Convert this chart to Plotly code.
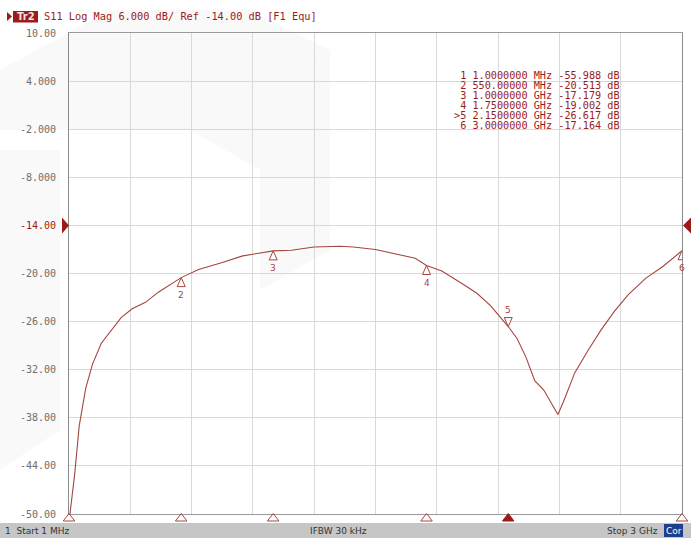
import plotly.graph_objects as go

# ---------------- data ----------------
freq_mhz = [1, 7, 29, 51, 83, 116, 159, 213, 256, 310, 375, 440, 505, 550, 635, 743, 851,
            1000, 1089, 1200, 1327, 1392, 1500, 1609, 1695, 1750, 1825, 1933, 1998, 2063,
            2150, 2193, 2236, 2280, 2323, 2366, 2393, 2420, 2475, 2540, 2605, 2670, 2735,
            2822, 2908, 3000]
s11_db = [-55.988, -49.7, -45.0, -39.0, -34.3, -31.3, -28.7, -27.0, -25.5, -24.4, -23.6,
          -22.3, -21.2, -20.513, -19.5, -18.7, -17.8, -17.179, -17.1, -16.7, -16.6, -16.7,
          -17.0, -17.6, -18.1, -19.002, -19.7, -21.4, -22.5, -24.0, -26.617, -28.1, -30.4,
          -33.4, -34.5, -36.4, -37.6, -36.0, -32.4, -29.6, -27.0, -24.7, -22.7, -20.6,
          -19.1, -17.164]

marker_ids = ["1", "2", "3", "4", "5", "6"]
marker_freq = [1, 550, 1000, 1750, 2150, 3000]
marker_db = [-55.988, -20.513, -17.179, -19.002, -26.617, -17.164]
marker_freq_text = ["1.0000000 MHz", "550.00000 MHz", "1.0000000 GHz", "1.7500000 GHz",
                    "2.1500000 GHz", "3.0000000 GHz"]
active_marker = "5"

y_ticks = [10, 4, -2, -8, -14, -20, -26, -32, -38, -44, -50]
y_tick_labels = ["10.00", "4.000", "-2.000", "-8.000", "-14.00", "-20.00", "-26.00",
                 "-32.00", "-38.00", "-44.00", "-50.00"]
ref_level = -14
y_min, y_max = -50, 10
start_freq, stop_freq = 1, 3000
header_text = "S11 Log Mag 6.000 dB/ Ref -14.00 dB [F1 Equ]"

# ---------------- styling ----------------
W, H = 691, 538
GRID_TOP, GRID_BOTTOM, STRIP_BOTTOM = 33, 514, 523
ML, MR, MT, MB = 69, 9, GRID_TOP, H - STRIP_BOTTOM
PW, PH = W - ML - MR, H - MT - MB
STRIP_FRAC = (STRIP_BOTTOM - GRID_BOTTOM) / PH
RED = "#a4463f"
DARKRED = "#9b1b1b"
MONO = "DejaVu Sans Mono"


def px_x(x):
    return (x - ML) / PW


def px_y(y):
    return (H - MB - y) / PH


fig = go.Figure()
fig.add_trace(go.Scatter(x=freq_mhz, y=s11_db, mode="lines", xaxis="x", yaxis="y",
                         line=dict(color=RED, width=1.1), hoverinfo="skip",
                         showlegend=False))

# marker strip under the grid
fig.add_trace(go.Scatter(
    x=marker_freq, y=[0.5] * len(marker_freq), xaxis="x2", yaxis="y2",
    mode="markers", cliponaxis=False, hoverinfo="skip", showlegend=False,
    marker=dict(symbol=["triangle-up" if m == active_marker else "triangle-up-open"
                        for m in marker_ids],
                size=10, color=[DARKRED if m == active_marker else RED for m in marker_ids],
                line=dict(width=1, color=[DARKRED if m == active_marker else RED
                                          for m in marker_ids]))))

shapes = []
annotations = []

# faint watermark facets
wm = [
    [(0, 70), (110, 10), (250, 10), (330, 50), (190, 130), (0, 130)],
    [(0, 150), (60, 150), (60, 430), (0, 470)],
    [(190, 130), (330, 50), (330, 250), (260, 290), (260, 170)],
]
for poly in wm:
    path = "M" + " L".join(f"{px_x(x)},{px_y(y)}" for x, y in poly) + " Z"
    shapes.append(dict(type="path", xref="paper", yref="paper", path=path,
                       fillcolor="rgba(0,0,0,0.022)", line=dict(width=0), layer="below"))

# marker symbols on trace
for mid, f, d in zip(marker_ids, marker_freq, marker_db):
    if d < y_min:
        continue
    if mid == active_marker:
        path = "M0,0 L-4,9 L4,9 Z"
        lab_shift = 17
    else:
        path = "M0,0 L-4,-9 L4,-9 Z"
        lab_shift = -17
    shapes.append(dict(type="path", xref="x", yref="y", xsizemode="pixel",
                       ysizemode="pixel", xanchor=f, yanchor=d, path=path,
                       line=dict(color=RED, width=1), fillcolor="white"))
    annotations.append(dict(x=f, y=d, xref="x", yref="y", text=mid, showarrow=False,
                            yshift=lab_shift, font=dict(family="DejaVu Sans", size=9,
                                                        color=RED)))

# reference level arrows
shapes.append(dict(type="path", xref="paper", yref="y", xsizemode="pixel",
                   ysizemode="pixel", xanchor=0, yanchor=ref_level,
                   path="M0,0 L-7,-8 L-7,8 Z", fillcolor=DARKRED, line=dict(width=0)))
shapes.append(dict(type="path", xref="paper", yref="y", xsizemode="pixel",
                   ysizemode="pixel", xanchor=1, yanchor=ref_level,
                   path="M1,0 L9,-8 L9,8 Z", fillcolor=DARKRED, line=dict(width=0)))

# marker table
for i, (mid, ft, d) in enumerate(zip(marker_ids, marker_freq_text, marker_db)):
    prefix = (">" + mid) if mid == active_marker else ("&nbsp;" + mid)
    line = f"{prefix} {ft} {d:.3f} dB"
    annotations.append(dict(x=px_x(452), y=px_y(75.5 + 9.9 * i), xref="paper", yref="paper",
                            xanchor="left", yanchor="middle", text=line.replace(" ", "&nbsp;"),
                            showarrow=False,
                            font=dict(family=MONO, size=10.2, color=DARKRED)))

# header
shapes.append(dict(type="path", xref="paper", yref="paper",
                   path=f"M{px_x(7)},{px_y(12)} L{px_x(12)},{px_y(16.5)} L{px_x(7)},{px_y(21)} Z",
                   fillcolor=DARKRED, line=dict(width=0)))
shapes.append(dict(type="rect", xref="paper", yref="paper", x0=px_x(13), x1=px_x(38),
                   y0=px_y(22.5), y1=px_y(11), fillcolor=DARKRED, line=dict(width=0)))
annotations.append(dict(x=px_x(25.5), y=px_y(16.5), xref="paper", yref="paper",
                        text="<b>Tr2</b>", showarrow=False, xanchor="center",
                        yanchor="middle", font=dict(family="DejaVu Sans", size=10,
                                                    color="#f4e0e0")))
annotations.append(dict(x=px_x(42), y=px_y(16.5), xref="paper", yref="paper",
                        text=header_text.replace(" ", "&nbsp;"), showarrow=False,
                        xanchor="left", yanchor="middle",
                        font=dict(family=MONO, size=10.3, color=DARKRED)))

# bottom status bar
shapes.append(dict(type="rect", xref="paper", yref="paper", x0=px_x(0), x1=px_x(W),
                   y0=px_y(538), y1=px_y(523), fillcolor="#c6c6c6", line=dict(width=0)))
shapes.append(dict(type="rect", xref="paper", yref="paper", x0=px_x(664), x1=px_x(683),
                   y0=px_y(537), y1=px_y(524), fillcolor="#1d3f8c", line=dict(width=0)))
bar_font = dict(family="DejaVu Sans", size=9, color="#333333")
annotations += [
    dict(x=px_x(3), y=px_y(530.5), xref="paper", yref="paper", xanchor="left",
         yanchor="middle", text=f"1&nbsp;&nbsp;Start {start_freq} MHz", showarrow=False,
         font=bar_font),
    dict(x=px_x(338), y=px_y(530.5), xref="paper", yref="paper", xanchor="center",
         yanchor="middle", text="IFBW 30 kHz", showarrow=False, font=bar_font),
    dict(x=px_x(660), y=px_y(530.5), xref="paper", yref="paper", xanchor="right",
         yanchor="middle", text=f"Stop {stop_freq // 1000} GHz", showarrow=False,
         font=bar_font),
    dict(x=px_x(673.5), y=px_y(530.5), xref="paper", yref="paper", xanchor="center",
         yanchor="middle", text="Cor", showarrow=False,
         font=dict(family="DejaVu Sans", size=9, color="white")),
]

tick_text = [(f"<span style='color:{DARKRED}'>{t}</span>" if v == ref_level else t)
             for v, t in zip(y_ticks, y_tick_labels)]

fig.update_layout(
    width=W, height=H,
    margin=dict(l=ML, r=MR, t=MT, b=MB, pad=0),
    paper_bgcolor="white", plot_bgcolor="rgba(0,0,0,0)",
    showlegend=False,
    shapes=shapes, annotations=annotations,
    xaxis=dict(range=[start_freq, stop_freq], tick0=start_freq, anchor="y",
               dtick=(stop_freq - start_freq) / 10, showticklabels=False,
               showgrid=True, gridcolor="#d9d9d9", gridwidth=1, zeroline=False,
               showline=True, linecolor="#9a9a9a", mirror=True, ticks=""),
    yaxis=dict(range=[y_min, y_max], domain=[STRIP_FRAC, 1], anchor="x",
               tickvals=y_ticks, ticktext=tick_text,
               showgrid=True, gridcolor="#d9d9d9", gridwidth=1, zeroline=False,
               showline=True, linecolor="#8a8a8a", mirror=True, ticks="",
               ticklabelstandoff=10,
               tickfont=dict(family=MONO, size=10, color="#6e6e6e")),
    xaxis2=dict(matches="x", anchor="y2", visible=False),
    yaxis2=dict(range=[0, 1], domain=[0, STRIP_FRAC], anchor="x2", visible=False),
)

fig.write_html("out.html", config={"displayModeBar": False},
               post_script="document.body.style.margin='0';document.body.style.overflow='hidden';")
